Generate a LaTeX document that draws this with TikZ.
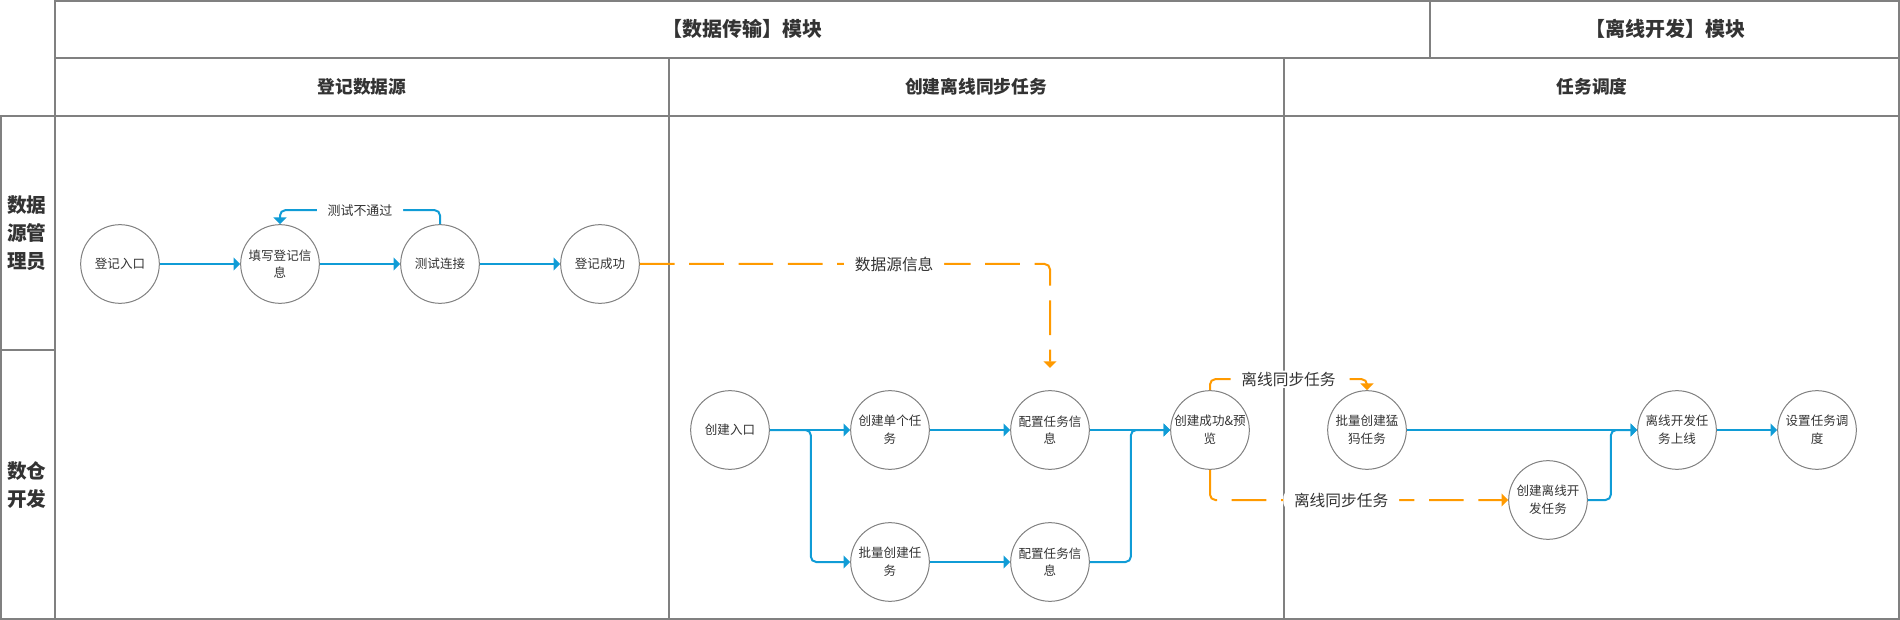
\documentclass[tikz,border=0pt]{standalone}
\usepackage{fontspec}
\setmainfont{Noto Sans CJK SC}
\usetikzlibrary{arrows.meta}
\definecolor{flowblue}{HTML}{109CD6}
\definecolor{dataorange}{HTML}{FF9A00}
\definecolor{framegray}{HTML}{808080}
\definecolor{textgray}{HTML}{333333}

\begin{document}
\begin{tikzpicture}[x=0.75pt, y=-0.75pt,
        frame/.style={framegray, line width=1.5pt},
        stage/.style={circle, draw=framegray, line width=0.75pt, minimum size=59pt, inner sep=0pt, align=center, text=textgray, font=\fontsize{9.4}{13.3}\selectfont},
        flow/.style={flowblue, line width=1.5pt, rounded corners=4pt, -{Triangle[length=5pt,width=9.5pt]}},
        data/.style={dataorange, line width=1.5pt, dash pattern=on 26pt off 11pt, rounded corners=4pt, -{Triangle[length=5pt,width=9.5pt]}},
        tag/.style={fill=white, inner xsep=8pt, inner ysep=1pt, text=textgray, font=\fontsize{11.8}{14}\selectfont},
        head/.style={text=textgray, font=\fontsize{13.3}{16}\selectfont\bfseries},
        module/.style={text=textgray, font=\fontsize{15}{18}\selectfont\bfseries},
        lane/.style={text=textgray, align=center, font=\fontsize{14.7}{21}\selectfont\bfseries}]

        \useasboundingbox (0,0) rectangle (1900,620);

        \draw[frame] (55,1) rectangle (1899,619);
        \draw[frame] (1,116) rectangle (55,619);
        \draw[frame] (1,350) -- (55,350);
        \foreach \y in {58,116}
            \draw[frame] (55,\y) -- (1899,\y);
        \draw[frame] (1430,1) -- (1430,58);
        \foreach \x in {669,1284}
            \draw[frame] (\x,58) -- (\x,619);

        \node[module] (modtrans) at (742,29) {【数据传输】模块};
        \node[module] (moddev) at (1665,29) {【离线开发】模块};
        \node[head] (colreg) at (362,87) {登记数据源};
        \node[head] (colsync) at (976,87) {创建离线同步任务};
        \node[head] (colsched) at (1592,87) {任务调度};
        \node[lane] (laneadmin) at (27,233) {数据\\源管\\理员};
        \node[lane] (lanedev) at (27,485) {数仓\\开发};

        \node[stage] (regentry) at (120,264) {登记入口};
        \node[stage] (reginfo) at (280,264) {填写登记信\\息};
        \node[stage] (conntest) at (440,264) {测试连接};
        \node[stage] (regdone) at (600,264) {登记成功};
        \node[stage] (syncentry) at (730,430) {创建入口};
        \node[stage] (single) at (890,430) {创建单个任\\务};
        \node[stage] (cfgsingle) at (1050,430) {配置任务信\\息};
        \node[stage] (preview) at (1210,430) {创建成功\&预\\览};
        \node[stage] (batch) at (890,562) {批量创建任\\务};
        \node[stage] (cfgbatch) at (1050,562) {配置任务信\\息};
        \node[stage] (mammoth) at (1367,430) {批量创建猛\\犸任务};
        \node[stage] (offdev) at (1548,500) {创建离线开\\发任务};
        \node[stage] (online) at (1677,430) {离线开发任\\务上线};
        \node[stage] (schedule) at (1817,430) {设置任务调\\度};
        \coordinate (dsin) at (1050,368);

        \draw[flow] (regentry) -- (reginfo);
        \draw[flow] (reginfo) -- (conntest);
        \draw[flow] (conntest) -- (regdone);
        \draw[flow] (conntest.north) -- ++(0,-14) -| (reginfo.north)
            node[tag, pos=0.25, font=\fontsize{9.7}{12}\selectfont] {测试不通过};
        \draw[data] (regdone.east) -| (dsin) node[tag, pos=0.31] {数据源信息};

        \draw[flow] (syncentry) -- (single);
        \draw[flow] (syncentry.east) -- ++(41,0) |- (batch.west);
        \draw[flow] (single) -- (cfgsingle);
        \draw[flow] (batch) -- (cfgbatch);
        \draw[flow] (cfgsingle) -- (preview);
        \draw[flow] (cfgbatch.east) -- ++(41,0) |- (preview.west);
        \draw[data] (preview.north) -- ++(0,-11) -| (mammoth.north)
            node[tag, pos=0.25] {离线同步任务};
        \draw[data] (preview.south) |- (offdev.west) node[tag, pos=0.72] {离线同步任务};
        \draw[flow] (mammoth) -- (online);
        \draw[flow] (offdev.east) -- ++(23,0) |- (online.west);
        \draw[flow] (online) -- (schedule);

    \end{tikzpicture}
\end{document}
